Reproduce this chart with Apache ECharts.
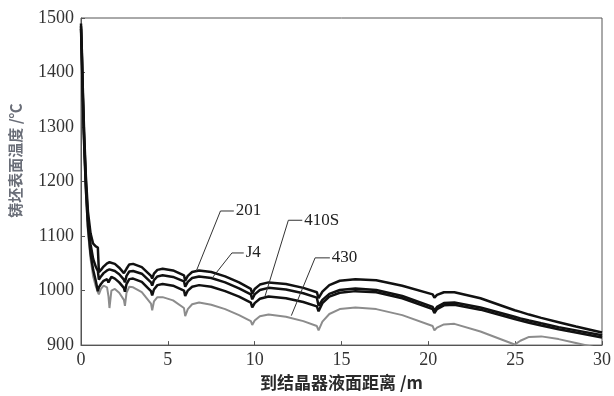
<!DOCTYPE html>
<html>
<head>
<meta charset="utf-8">
<script src="https://cdn.jsdelivr.net/npm/echarts@6/dist/echarts.min.js"></script>
<style>
html,body{margin:0;padding:0;background:#fff;}
#chart{width:614px;height:396px;}
</style>
</head>
<body>
<div id="chart"></div>
<script>
// distance from meniscus (m)
const distance = [0, 0.05, 0.1, 0.18, 0.28, 0.4, 0.55, 0.7, 0.85, 0.97, 1.03,
  1.15, 1.3, 1.5, 1.58, 1.64, 1.75, 1.95, 2.2, 2.47, 2.53,
  2.62, 2.78, 3.0, 3.5, 4.03, 4.1,
  4.2, 4.4, 4.7, 5.3, 5.93, 6.0,
  6.15, 6.4, 6.8, 7.5, 8.3, 9.1, 9.78, 9.86,
  10.0, 10.3, 10.8, 11.8, 12.8, 13.58, 13.68,
  13.9, 14.3, 14.9, 15.8, 17.0, 18.5, 20.25, 20.35,
  20.5, 20.9, 21.5, 23.0, 24.97, 25.05,
  25.3, 25.8, 26.5, 27.5, 28.5, 30.0];
// surface temperature (°C)
const temp201 = [1490, 1440, 1375, 1290, 1210, 1145, 1105, 1086, 1081, 1079, 1034,
  1038, 1044, 1050, 1051, 1052, 1053, 1049, 1042, 1032, 1029,
  1040, 1048, 1049, 1043, 1027, 1022,
  1031, 1038, 1040, 1037, 1028, 1018,
  1027, 1034, 1037, 1034, 1026, 1015, 1003, 994,
  1003, 1011, 1015, 1012, 1005, 997, 986,
  998, 1010, 1018, 1021, 1019, 1009, 993, 987,
  992, 997, 997, 986, 964, 963,
  961, 956, 950, 942, 934, 923];
const tempJ4 = [1485, 1432, 1365, 1280, 1198, 1130, 1085, 1058, 1044, 1036, 1020,
  1026, 1032, 1037, 1038, 1039, 1040, 1036, 1030, 1020, 1015,
  1027, 1035, 1036, 1031, 1015, 1009,
  1019, 1026, 1028, 1025, 1017, 1007,
  1016, 1023, 1026, 1023, 1015, 1004, 993, 984,
  993, 1001, 1005, 1002, 995, 987, 972,
  983, 994, 1001, 1004, 1001, 990, 970, 963,
  970, 977, 978, 969, 952, 951,
  949, 945, 940, 933, 927, 918];
const temp410S = [1480, 1425, 1356, 1270, 1188, 1118, 1068, 1038, 1018, 999, 1006,
  1012, 1018, 1021, 1015, 1017, 1025, 1022, 1015, 1005, 998,
  1012, 1021, 1022, 1016, 999, 991,
  1002, 1010, 1012, 1009, 1000, 990,
  1000, 1007, 1010, 1007, 999, 989, 978, 969,
  977, 985, 989, 986, 979, 971, 962,
  977, 989, 996, 999, 997, 986, 966, 959,
  966, 973, 974, 965, 948, 947,
  945, 941, 936, 929, 923, 914];
const temp430 = [1475, 1418, 1348, 1260, 1178, 1108, 1058, 1026, 1008, 997, 993,
  1003, 1009, 1006, 990, 968, 1000, 1003, 996, 983, 972,
  996, 1007, 1006, 997, 976, 964,
  980, 988, 988, 982, 968, 953,
  966, 975, 978, 974, 966, 955, 944, 937,
  945, 953, 956, 952, 944, 935, 927,
  943, 957, 966, 969, 966, 955, 935, 927,
  932, 938, 939, 925, 901, 898,
  908, 915, 916, 911, 904, 893];

// annotation callouts (data coordinates)
const calloutNames = ['201', 'J4', '410S', '430'];
const calloutAnchorX = [6.64, 7.55, 10.57, 12.11];
const calloutAnchorY = [1036, 1023, 987, 954];
const calloutElbowX = [8.03, 8.69, 11.94, 13.48];
const calloutTextX = [8.8, 9.37, 12.74, 14.33];
const calloutTextY = [1146, 1069, 1129, 1060];

const xTitle = '到结晶器液面距离 /m';
const yTitle = '铸坯表面温度 /℃';

const zip = (xs, ys) => xs.map((x, i) => [x, ys[i]]);

const mainSeries = [
  {name: '430', data: temp430, color: '#8c8c8c', width: 2},
  {name: '410S', data: temp410S, color: '#111', width: 2.5},
  {name: 'J4', data: tempJ4, color: '#111', width: 2.5},
  {name: '201', data: temp201, color: '#111', width: 2.5}
].map(s => ({
  type: 'line', name: s.name, data: zip(distance, s.data),
  symbol: 'none', silent: true, clip: true,
  lineStyle: {color: s.color, width: s.width}, z: 3
}));

const calloutSeries = calloutNames.map((n, i) => ({
  type: 'line', name: 'callout-' + n, silent: true, symbol: 'none', z: 4,
  data: [[calloutAnchorX[i], calloutAnchorY[i]], [calloutElbowX[i], calloutTextY[i]], [calloutTextX[i], calloutTextY[i]]],
  lineStyle: {color: '#333', width: 1},
  endLabel: {show: true, formatter: () => n, distance: 2,
    fontFamily: 'Liberation Serif', fontSize: 17, color: '#222'}
}));

const chart = echarts.init(document.getElementById('chart'), null, {renderer: 'canvas'});
chart.setOption({
  animation: false,
  backgroundColor: '#fff',
  grid: {left: 80, right: 8, top: 18, bottom: 48, show: true, borderColor: '#555', borderWidth: 1, backgroundColor: 'transparent'},
  xAxis: {
    type: 'value', min: 0, max: 30, interval: 5,
    axisLine: {lineStyle: {color: '#555'}},
    axisTick: {inside: true, length: 4, lineStyle: {color: '#555'}},
    axisLabel: {fontFamily: 'Liberation Serif', fontSize: 18, color: '#333', margin: 6, formatter: v => String(v)},
    splitLine: {show: false},
    name: xTitle, nameLocation: 'middle', nameGap: 27,
    nameTextStyle: {fontFamily: 'Noto Sans CJK SC', fontSize: 17, fontWeight: 'bold', color: '#2a2a2a'}
  },
  yAxis: {
    type: 'value', min: 900, max: 1500, interval: 100,
    axisLine: {show: true, lineStyle: {color: '#555'}},
    axisTick: {show: true, inside: true, length: 4, lineStyle: {color: '#555'}},
    axisLabel: {fontFamily: 'Liberation Serif', fontSize: 18, color: '#333', margin: 7, formatter: v => String(v)},
    splitLine: {show: false},
    name: yTitle, nameLocation: 'middle', nameGap: 58, nameRotate: 90,
    nameTextStyle: {fontFamily: 'Noto Sans CJK SC', fontSize: 15, fontWeight: 'bold', color: '#6a6e78', padding: [0, 0, 0, 42]}
  },
  series: mainSeries.concat(calloutSeries)
});
</script>
</body>
</html>
